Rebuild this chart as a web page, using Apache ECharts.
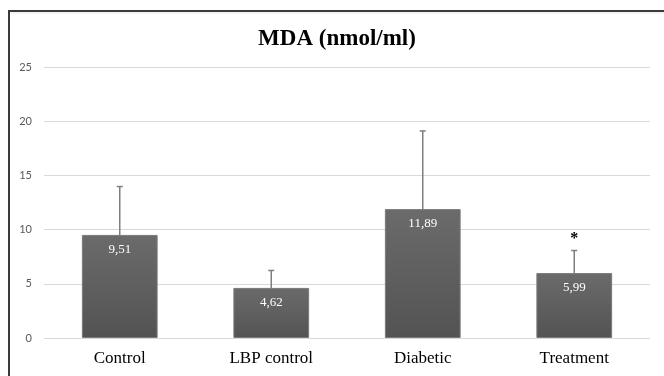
<!DOCTYPE html>
<html>
<head>
<meta charset="utf-8">
<style>
  html, body { margin: 0; padding: 0; background: #ffffff; }
  #chart { width: 664px; height: 376px; }
</style>
<script src="https://cdn.jsdelivr.net/npm/echarts@6/dist/echarts.min.js"></script>
</head>
<body>
<div id="chart"></div>
<script>
// Groups and MDA means (nmol/ml)
const categories = ['Control', 'LBP control', 'Diabetic', 'Treatment'];
const meanValues = [9.51, 4.62, 11.89, 5.99];
// Upper standard deviation shown as error bars
const sdValues = [4.46, 1.61, 7.21, 2.08];
// Significance markers above the error bars
const significance = ['', '', '', '*'];
const yTicks = [0, 5, 10, 15, 20, 25];

const chart = echarts.init(document.getElementById('chart'), null, { renderer: 'canvas' });

const errorData = categories.map((c, i) => [i, meanValues[i], meanValues[i] + sdValues[i], significance[i]]);

chart.setOption({
  animation: false,
  backgroundColor: '#ffffff',
  title: {
    text: 'MDA (nmol/ml)',
    left: 332,
    top: 23,
    textAlign: 'center',
    textStyle: {
      fontFamily: 'Liberation Serif',
      fontWeight: 'bold',
      fontSize: 23,
      color: '#000000'
    }
  },
  graphic: [
    { type: 'line', shape: { x1: 8, y1: 11, x2: 664, y2: 11 }, style: { stroke: '#3a3a3a', lineWidth: 2 } },
    { type: 'line', shape: { x1: 11, y1: 13, x2: 664, y2: 13 }, style: { stroke: '#e6e6e6', lineWidth: 1 } },
    { type: 'line', shape: { x1: 9, y1: 10, x2: 9, y2: 376 }, style: { stroke: '#3a3a3a', lineWidth: 2 } }
  ],
  grid: { left: 44, right: 14, top: 67, bottom: 38 },
  xAxis: {
    type: 'category',
    data: categories,
    axisLine: { show: false },
    axisTick: { show: false },
    axisLabel: {
      margin: 12,
      fontFamily: 'Liberation Serif',
      fontSize: 17,
      color: '#000000'
    }
  },
  yAxis: {
    type: 'value',
    min: yTicks[0],
    max: yTicks[yTicks.length - 1],
    interval: yTicks[1] - yTicks[0],
    axisLine: { show: false },
    axisTick: { show: false },
    axisLabel: {
      margin: 12,
      fontFamily: 'Lato',
      fontSize: 11,
      color: '#595959'
    },
    splitLine: { lineStyle: { color: '#d9d9d9', width: 1 } }
  },
  series: [
    {
      type: 'bar',
      data: meanValues,
      barWidth: '50%',
      itemStyle: {
        color: new echarts.graphic.LinearGradient(0, 0, 0, 1, [
          { offset: 0, color: '#6b6b6b' },
          { offset: 1, color: '#535353' }
        ]),
        borderColor: '#7a7a7a',
        borderWidth: 1
      },
      label: {
        show: true,
        position: 'insideTop',
        distance: 8,
        formatter: p => p.value.toFixed(2).replace('.', ','),
        fontFamily: 'Liberation Serif',
        fontSize: 13,
        color: '#ffffff'
      },
      z: 2
    },
    {
      type: 'custom',
      data: errorData,
      z: 3,
      renderItem: (params, api) => {
        const x = api.value(0);
        const base = api.coord([x, api.value(1)]);
        const top = api.coord([x, api.value(2)]);
        const mark = api.value(3);
        const half = 3;
        const children = [
          { type: 'line', shape: { x1: base[0], y1: base[1], x2: top[0], y2: top[1] }, style: { stroke: '#7f7f7f', lineWidth: 1.5 } },
          { type: 'line', shape: { x1: top[0] - half, y1: top[1], x2: top[0] + half, y2: top[1] }, style: { stroke: '#7f7f7f', lineWidth: 1.5 } }
        ];
        if (mark) {
          children.push({
            type: 'text',
            style: {
              text: mark,
              x: top[0],
              y: top[1] - 4,
              align: 'center',
              verticalAlign: 'bottom',
              font: 'bold 16px "Liberation Serif"',
              fill: '#000000'
            }
          });
        }
        return { type: 'group', children };
      }
    }
  ]
});
</script>
</body>
</html>
